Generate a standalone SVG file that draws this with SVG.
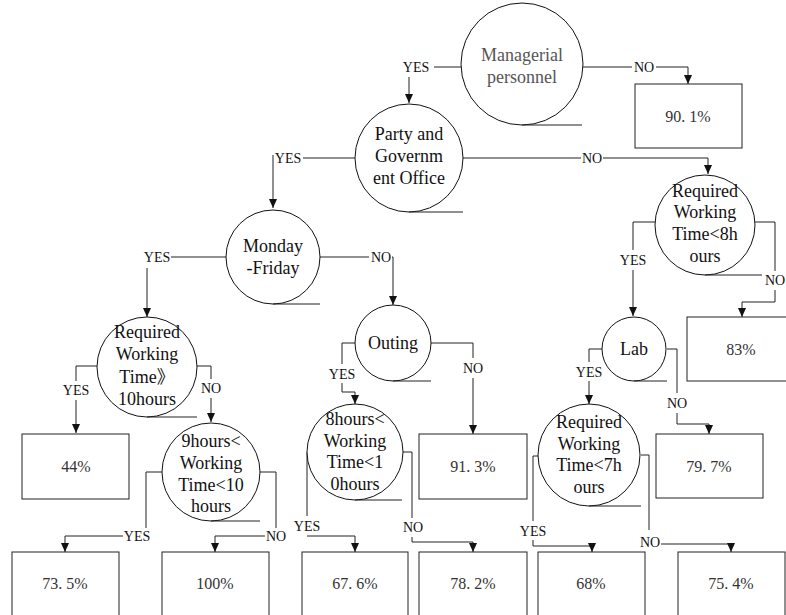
<svg xmlns="http://www.w3.org/2000/svg" width="786" height="615" viewBox="0 0 786 615">
<style>
.node circle{fill:#fff;stroke:#111;stroke-width:1}
.tan{fill:none;stroke:#222;stroke-width:1}
.nt{font-family:"Liberation Serif","Noto Sans CJK SC",serif;font-size:18px;fill:#111;text-anchor:middle}
.box rect{fill:#fff;stroke:#222;stroke-width:1}
.bt{font-family:"Liberation Serif","Noto Sans CJK SC",serif;font-size:16px;fill:#333;text-anchor:middle}
.lbl{font-family:"Liberation Serif",serif;font-size:14px;fill:#111;text-anchor:middle}
.c{fill:none;stroke:#222;stroke-width:1}
.a{marker-end:url(#arr)}
</style>
<defs>
<marker id="arr" markerUnits="userSpaceOnUse" markerWidth="9" markerHeight="8" refX="9" refY="4" orient="auto">
<path d="M0,0 L9,4 L0,8 z" fill="#111"/>
</marker>
</defs>

<g id="connectors">
<path class="c" d="M462,67 H434"/><path class="c a" d="M409,77 V103"/>
<path class="c" d="M582,67 H632"/><path class="c a" d="M656,67 H688 V84"/>
<path class="c" d="M355,158 H303"/><path class="c a" d="M273,155 V208"/>
<path class="c" d="M463,158 H581"/><path class="c a" d="M603,158 H708 V174"/>
<path class="c" d="M226,257 H171"/><path class="c a" d="M147,268 V317"/>
<path class="c" d="M320,257 H369"/><path class="c a" d="M392,257 H393 V305"/>
<path class="c" d="M97,366 H76 V381"/><path class="c a" d="M76,400 V433"/>
<path class="c" d="M197,366 H211 V379"/><path class="c a" d="M211,398 V422"/>
<path class="c" d="M162,472 H146 V528"/><path class="c a" d="M123,536 H65 V552"/>
<path class="c" d="M260,472 H276 V528"/><path class="c a" d="M265,536 H215 V552"/>
<path class="c" d="M355,343 H342 V364"/><path class="c a" d="M342,383 V392 H355 V404"/>
<path class="c" d="M431,343 H473 V358"/><path class="c a" d="M473,378 V434"/>
<path class="c" d="M307,452 V516"/><path class="c a" d="M307,536 H355 V552"/>
<path class="c" d="M402,452 H412 V518"/><path class="c a" d="M412,537 V542 H473 V552"/>
<path class="c" d="M655,222 H633 V250"/><path class="c a" d="M633,270 V316"/>
<path class="c" d="M755,222 H775 V271"/><path class="c a" d="M775,290 V302 H742 V317"/>
<path class="c" d="M602,349 H589 V362"/><path class="c a" d="M589,381 V404"/>
<path class="c" d="M677,349 H677 V393"/><path class="c" d="M667,349 H677"/><path class="c a" d="M677,413 V424 H709 V434"/>
<path class="c" d="M538,456 H533 V521"/><path class="c a" d="M533,540 V546 H592 V552"/>
<path class="c" d="M641,455 H649 V530"/><path class="c a" d="M661,544 H731 V552"/>
<text class="lbl" x="416" y="72">YES</text>
<text class="lbl" x="644" y="72">NO</text>
<text class="lbl" x="288" y="163">YES</text>
<text class="lbl" x="592" y="163">NO</text>
<text class="lbl" x="157" y="262">YES</text>
<text class="lbl" x="381" y="262">NO</text>
<text class="lbl" x="76" y="395">YES</text>
<text class="lbl" x="211" y="393">NO</text>
<text class="lbl" x="137" y="541">YES</text>
<text class="lbl" x="276" y="541">NO</text>
<text class="lbl" x="342" y="379">YES</text>
<text class="lbl" x="473" y="373">NO</text>
<text class="lbl" x="307" y="531">YES</text>
<text class="lbl" x="413" y="532">NO</text>
<text class="lbl" x="633" y="265">YES</text>
<text class="lbl" x="775" y="285">NO</text>
<text class="lbl" x="589" y="377">YES</text>
<text class="lbl" x="677" y="408">NO</text>
<text class="lbl" x="533" y="536">YES</text>
<text class="lbl" x="650" y="547">NO</text>
</g>

<g id="n-managerial" class="node">
<circle cx="522" cy="64" r="61"/><path class="tan" d="M522,125 H582"/>
<text class="nt" x="522" y="61" style="fill:#555">Managerial</text>
<text class="nt" x="522" y="83" style="fill:#555">personnel</text>
</g>
<g id="n-party" class="node">
<circle cx="409" cy="158" r="54"/><path class="tan" d="M409,212 H463"/>
<text class="nt" x="409" y="140">Party and</text>
<text class="nt" x="409" y="162">Governm</text>
<text class="nt" x="409" y="184">ent Office</text>
</g>
<g id="n-monday" class="node">
<circle cx="273" cy="257" r="47"/><path class="tan" d="M273,304 H320"/>
<text class="nt" x="273" y="252">Monday</text>
<text class="nt" x="273" y="274">-Friday</text>
</g>
<g id="n-req10" class="node">
<circle cx="147" cy="367" r="50"/><path class="tan" d="M147,417 H197"/>
<text class="nt" x="147" y="338">Required</text>
<text class="nt" x="147" y="360">Working</text>
<text class="nt" x="147" y="383">Time》</text>
<text class="nt" x="147" y="405">10hours</text>
</g>
<g id="n-9to10" class="node">
<circle cx="211" cy="472" r="49"/><path class="tan" d="M211,521 H260"/>
<text class="nt" x="211" y="447">9hours&lt;</text>
<text class="nt" x="211" y="469">Working</text>
<text class="nt" x="211" y="491">Time&lt;10</text>
<text class="nt" x="211" y="512">hours</text>
</g>
<g id="n-outing" class="node">
<circle cx="393" cy="343" r="38"/><path class="tan" d="M393,381 H431"/>
<text class="nt" x="393" y="349">Outing</text>
</g>
<g id="n-8to10" class="node">
<circle cx="355" cy="452" r="48"/><path class="tan" d="M355,500 H402"/>
<text class="nt" x="355" y="425">8hours&lt;</text>
<text class="nt" x="355" y="447">Working</text>
<text class="nt" x="355" y="468">Time&lt;1</text>
<text class="nt" x="355" y="490">0hours</text>
</g>
<g id="n-req8" class="node">
<circle cx="705" cy="225" r="50"/><path class="tan" d="M705,275 H762"/>
<text class="nt" x="705" y="197">Required</text>
<text class="nt" x="705" y="218">Working</text>
<text class="nt" x="705" y="240">Time&lt;8h</text>
<text class="nt" x="705" y="262">ours</text>
</g>
<g id="n-lab" class="node">
<circle cx="634" cy="349" r="32"/><path class="tan" d="M634,381 H667"/>
<text class="nt" x="634" y="355">Lab</text>
</g>
<g id="n-req7" class="node">
<circle cx="589" cy="455" r="51"/><path class="tan" d="M589,506 H641"/>
<text class="nt" x="589" y="428">Required</text>
<text class="nt" x="589" y="450">Working</text>
<text class="nt" x="589" y="471">Time&lt;7h</text>
<text class="nt" x="589" y="493">ours</text>
</g>

<g id="b-901" class="box"><rect x="635" y="84" width="107" height="64"/><text class="bt" x="688" y="122">90. 1%</text></g>
<g id="b-83" class="box"><rect x="687" y="317" width="110" height="64"/><text class="bt" x="741" y="355">83%</text></g>
<g id="b-44" class="box"><rect x="22" y="434" width="107" height="65"/><text class="bt" x="76" y="472">44%</text></g>
<g id="b-913" class="box"><rect x="419" y="434" width="108" height="65"/><text class="bt" x="473" y="472">91. 3%</text></g>
<g id="b-797" class="box"><rect x="656" y="434" width="107" height="64"/><text class="bt" x="709" y="472">79. 7%</text></g>
<g id="b-735" class="box"><rect x="12" y="552" width="107" height="70"/><text class="bt" x="65" y="589">73. 5%</text></g>
<g id="b-100" class="box"><rect x="162" y="552" width="107" height="70"/><text class="bt" x="215" y="589">100%</text></g>
<g id="b-676" class="box"><rect x="302" y="552" width="106" height="70"/><text class="bt" x="355" y="589">67. 6%</text></g>
<g id="b-782" class="box"><rect x="419" y="552" width="108" height="70"/><text class="bt" x="473" y="589">78. 2%</text></g>
<g id="b-68" class="box"><rect x="538" y="552" width="107" height="70"/><text class="bt" x="591" y="589">68%</text></g>
<g id="b-754" class="box"><rect x="678" y="552" width="107" height="70"/><text class="bt" x="731" y="589">75. 4%</text></g>
</svg>
